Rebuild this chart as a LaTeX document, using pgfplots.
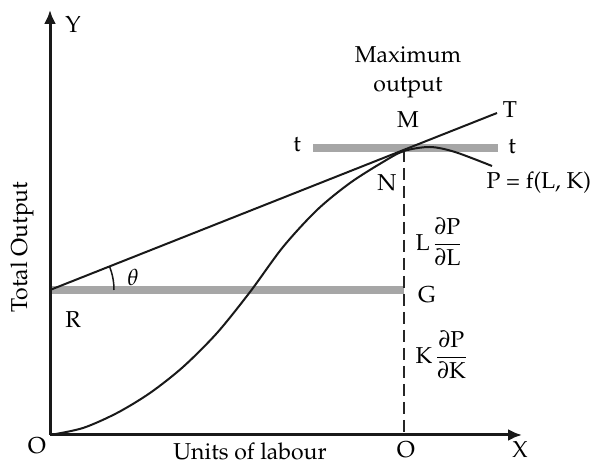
\documentclass[border=0pt]{standalone}
\usepackage[T1]{fontenc}
\usepackage{mathpazo}
\usepackage{amsmath}
\usepackage{pgfplots}
\pgfplotsset{compat=1.18}
\usetikzlibrary{arrows.meta}
\definecolor{grayline}{HTML}{A6A6A6}
\begin{document}
\begin{tikzpicture}[font=\fontsize{23}{27}\selectfont]
\begin{axis}[x=1pt,y=1pt,xmin=-50,xmax=545,ymin=-30,ymax=435,
  hide axis, clip=false]
\addplot[draw=none] coordinates {(-50,-30) (545,435)};
% gray lines
\addplot[grayline, line width=8pt] coordinates {(0,145) (354,145)};
\addplot[grayline, line width=8pt] coordinates {(263,287) (448,287)};
% dashed vertical
\addplot[black!85, line width=2.5pt, dash pattern=on 12pt off 6pt] coordinates {(354,285) (354,0)};
% tangent line
\addplot[black!90, line width=2pt] coordinates {(0,145) (447,322)};
% production curve
\addplot[black!90, line width=2pt, smooth, tension=0.5] coordinates {
(0,0) (33,7) (67,22) (100,42) (133,68) (167,102) (200,143) (233,188)
(267,225) (300,252) (333,273) (354,284) (380,288) (405,283) (442,269)};
% axes
\addplot[black!90, line width=3pt, -{Latex[length=14pt,width=12pt]}] coordinates {(0,0) (0,425)};
\addplot[black!90, line width=3pt, -{Latex[length=14pt,width=12pt]}] coordinates {(0,0) (472,0)};
% angle arc
\draw[black!90, line width=1.5pt] (axis cs:64,145) arc[start angle=0,end angle=21.6,radius=64pt];
% labels
\node at (axis cs:23,410) {Y};
\node at (axis cs:470,-15) {X};
\node at (axis cs:-13,-11) {O};
\node at (axis cs:356,-15) {O};
\node at (axis cs:200,-16) {Units of labour};
\node[rotate=90] at (axis cs:-28,188) {Total Output};
\node at (axis cs:23,115) {R};
\node at (axis cs:83,158) {$\theta$};
\node at (axis cs:377,140) {G};
\node[anchor=west] at (axis cs:362,193) {L\,$\dfrac{\partial\mathrm{P}}{\partial\mathrm{L}}$};
\node[anchor=west] at (axis cs:362,80) {K\,$\dfrac{\partial\mathrm{P}}{\partial\mathrm{K}}$};
\node at (axis cs:337,252) {N};
\node at (axis cs:358,315) {M};
\node at (axis cs:358,380) {Maximum};
\node at (axis cs:358,347) {output};
\node at (axis cs:460,325) {T};
\node at (axis cs:247,290) {t};
\node at (axis cs:462,288) {t};
\node[anchor=west] at (axis cs:433,252) {P = f(L, K)};
\end{axis}
\end{tikzpicture}
\end{document}
